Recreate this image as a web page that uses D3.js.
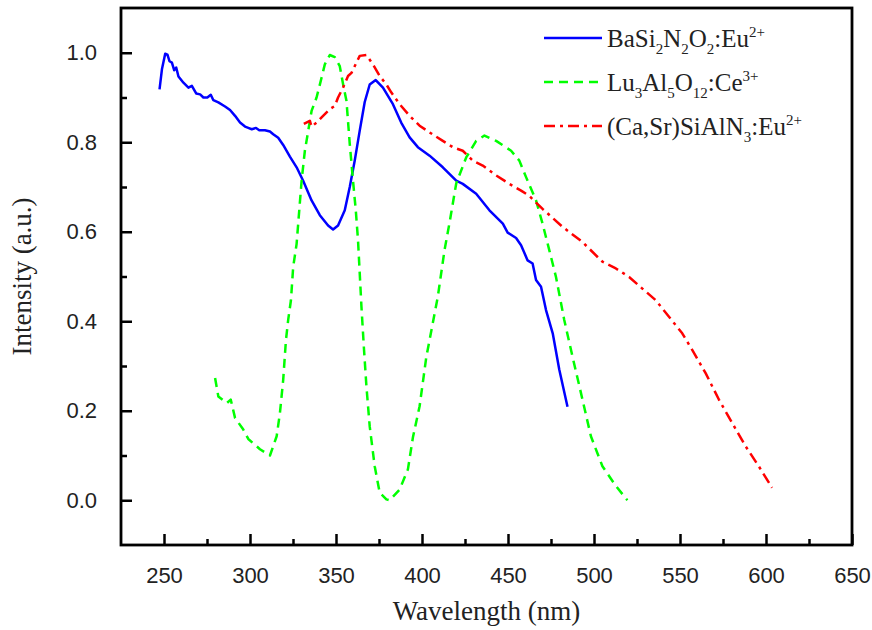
<!DOCTYPE html>
<html>
<head>
<meta charset="utf-8">
<script src="https://cdn.jsdelivr.net/npm/d3@7"></script>
<style>
  body { margin: 0; background: #fff; }
  svg { display: block; }
</style>
</head>
<body>
<div id="chart"></div>
<script>
// BaSi2N2O2:Eu2+ (solid blue)
var baWl = [247.4, 248.8, 250.7, 252.0, 253.2, 254.6, 255.9, 257.1, 258.4, 261.3, 264.2, 266.2, 268.7, 271.0, 272.9, 275.2, 277.2, 278.7, 281.6, 285.5, 288.4, 291.3, 294.2, 297.1, 299.0, 301.0, 303.5, 305.4, 308.7, 311.6, 313.5, 316.4, 319.3, 323.2, 327.1, 330.9, 335.8, 340.6, 345.4, 348.3, 351.2, 355.1, 358.0, 360.9, 363.8, 366.7, 369.6, 373.1, 377.3, 383.1, 387.9, 392.8, 397.6, 404.4, 412.1, 419.9, 423.7, 431.5, 439.2, 447.0, 449.8, 454.7, 457.6, 461.4, 464.3, 466.3, 469.2, 472.1, 476.0, 479.8, 484.6];
var baInt = [0.918, 0.963, 0.998, 0.996, 0.981, 0.978, 0.961, 0.967, 0.947, 0.933, 0.922, 0.926, 0.909, 0.907, 0.900, 0.900, 0.906, 0.894, 0.889, 0.880, 0.872, 0.859, 0.844, 0.835, 0.832, 0.829, 0.832, 0.827, 0.827, 0.824, 0.818, 0.810, 0.794, 0.768, 0.744, 0.714, 0.670, 0.637, 0.614, 0.605, 0.614, 0.648, 0.700, 0.759, 0.826, 0.890, 0.929, 0.939, 0.922, 0.885, 0.844, 0.811, 0.789, 0.770, 0.744, 0.714, 0.707, 0.685, 0.648, 0.618, 0.598, 0.586, 0.570, 0.536, 0.529, 0.492, 0.477, 0.425, 0.373, 0.292, 0.209];

// Lu3Al5O12:Ce3+ (dashed green)
var luWl = [279.7, 281.6, 286.5, 288.8, 291.3, 296.1, 299.0, 305.8, 311.6, 315.5, 317.4, 319.3, 320.9, 322.2, 323.8, 325.1, 327.1, 330.0, 331.9, 335.8, 338.7, 341.6, 343.5, 346.4, 349.3, 352.2, 354.1, 356.1, 358.0, 359.9, 361.5, 362.8, 363.8, 364.8, 366.3, 367.7, 369.6, 372.5, 375.4, 379.3, 381.2, 387.0, 391.8, 394.7, 398.6, 402.5, 409.2, 413.1, 416.0, 419.9, 425.7, 431.5, 436.3, 443.1, 451.8, 456.6, 460.5, 466.3, 470.1, 474.0, 477.9, 482.7, 487.5, 492.4, 498.2, 504.9, 512.7, 519.4];
var luInt = [0.273, 0.232, 0.217, 0.225, 0.184, 0.158, 0.137, 0.114, 0.100, 0.143, 0.195, 0.269, 0.358, 0.403, 0.447, 0.521, 0.573, 0.714, 0.781, 0.870, 0.900, 0.944, 0.974, 0.995, 0.990, 0.970, 0.930, 0.892, 0.796, 0.714, 0.648, 0.581, 0.507, 0.432, 0.336, 0.254, 0.165, 0.076, 0.017, 0.002, 0.000, 0.024, 0.069, 0.140, 0.210, 0.320, 0.455, 0.559, 0.620, 0.708, 0.766, 0.803, 0.815, 0.803, 0.781, 0.759, 0.722, 0.670, 0.618, 0.559, 0.499, 0.403, 0.321, 0.240, 0.143, 0.076, 0.032, 0.000];

// (Ca,Sr)SiAlN3:Eu2+ (dash-dot red)
var caWl = [331.3, 334.8, 335.8, 338.7, 342.5, 346.4, 349.3, 351.2, 354.1, 357.0, 359.0, 363.8, 367.7, 371.5, 375.4, 379.3, 382.2, 387.0, 392.8, 398.6, 404.4, 412.1, 417.9, 423.7, 429.5, 435.3, 443.1, 450.8, 457.6, 462.4, 470.1, 481.7, 493.3, 504.9, 512.7, 520.4, 528.1, 535.9, 543.6, 551.3, 557.1, 564.9, 572.6, 580.3, 588.1, 595.8, 603.5];
var caInt = [0.841, 0.848, 0.835, 0.844, 0.859, 0.874, 0.881, 0.900, 0.922, 0.948, 0.955, 0.993, 0.995, 0.974, 0.948, 0.929, 0.911, 0.885, 0.859, 0.837, 0.822, 0.803, 0.789, 0.781, 0.759, 0.748, 0.726, 0.707, 0.692, 0.680, 0.651, 0.611, 0.577, 0.533, 0.518, 0.499, 0.473, 0.447, 0.410, 0.373, 0.336, 0.284, 0.225, 0.173, 0.121, 0.076, 0.028];

var xTicks = [250, 300, 350, 400, 450, 500, 550, 600, 650];
var xMinor = [275, 325, 375, 425, 475, 525, 575, 625];
var yTicks = [0.0, 0.2, 0.4, 0.6, 0.8, 1.0];
var yMinor = [0.1, 0.3, 0.5, 0.7, 0.9];

var legendNames = [
    [["BaSi", ""], ["2", "sub"], ["N", ""], ["2", "sub"], ["O", ""], ["2", "sub"], [":Eu", ""], ["2+", "sup"]],
    [["Lu", ""], ["3", "sub"], ["Al", ""], ["5", "sub"], ["O", ""], ["12", "sub"], [":Ce", ""], ["3+", "sup"]],
    [["(Ca,Sr)SiAlN", ""], ["3", "sub"], [":Eu", ""], ["2+", "sup"]]
];

var W = 872, H = 630;
var margin = { top: 8, right: 20, bottom: 85, left: 121 };
var width = W - margin.left - margin.right,
    height = H - margin.top - margin.bottom;

var svg = d3.select("#chart").append("svg")
    .attr("width", W)
    .attr("height", H);

var g = svg.append("g")
    .attr("transform", "translate(" + margin.left + "," + margin.top + ")");

var x = d3.scaleLinear().domain([225, 650]).range([0, width]);
var y = d3.scaleLinear().domain([-0.1, 1.1]).range([height, 0]);

var series = [
    { wl: baWl, val: baInt, color: "#0000ff", dash: null },
    { wl: luWl, val: luInt, color: "#00ff00", dash: "9,6" },
    { wl: caWl, val: caInt, color: "#ff0000", dash: "11,5,3,5" }
];

var line = d3.line()
    .x(d => x(d[0]))
    .y(d => y(d[1]));

series.forEach(function (s) {
    g.append("path")
        .datum(d3.zip(s.wl, s.val))
        .attr("fill", "none")
        .attr("stroke", s.color)
        .attr("stroke-width", 2.5)
        .attr("stroke-dasharray", s.dash)
        .attr("stroke-linejoin", "round")
        .attr("d", line);
});

// axes, ticks pointing inward
var xAxis = g.append("g")
    .attr("transform", "translate(0," + height + ")")
    .call(d3.axisBottom(x).tickValues(xTicks).tickSize(-11).tickPadding(22).tickFormat(d3.format("d")));
g.append("g")
    .attr("transform", "translate(0," + height + ")")
    .call(d3.axisBottom(x).tickValues(xMinor).tickSize(-6).tickFormat(""));

var yAxis = g.append("g")
    .call(d3.axisLeft(y).tickValues(yTicks).tickSize(-11).tickPadding(24).tickFormat(d3.format(".1f")));
g.append("g")
    .call(d3.axisLeft(y).tickValues(yMinor).tickSize(-6).tickFormat(""));

g.selectAll(".domain").remove();
g.selectAll(".tick line").attr("stroke", "#000").attr("stroke-width", 2.5);
g.selectAll(".tick text")
    .attr("fill", "#222")
    .style("font-family", "Liberation Sans, Arial, sans-serif")
    .style("font-size", "22px");

// frame
g.append("rect")
    .attr("width", width)
    .attr("height", height)
    .attr("fill", "none")
    .attr("stroke", "#000")
    .attr("stroke-width", 2.8);

// axis titles
svg.append("text")
    .attr("x", margin.left + width / 2)
    .attr("y", 620)
    .attr("text-anchor", "middle")
    .style("font-family", "Liberation Serif, Times New Roman, serif")
    .style("font-size", "27px")
    .attr("fill", "#222")
    .text("Wavelength (nm)");

svg.append("text")
    .attr("transform", "translate(31," + (margin.top + height / 2) + ") rotate(-90)")
    .attr("text-anchor", "middle")
    .style("font-family", "Liberation Serif, Times New Roman, serif")
    .style("font-size", "27px")
    .attr("fill", "#222")
    .text("Intensity (a.u.)");

// legend
var legY = [38, 82, 126];
series.forEach(function (s, i) {
    svg.append("line")
        .attr("x1", 544).attr("x2", 602)
        .attr("y1", legY[i]).attr("y2", legY[i])
        .attr("stroke", s.color)
        .attr("stroke-width", 2.5)
        .attr("stroke-dasharray", s.dash);

    var t = svg.append("text")
        .attr("x", 607)
        .attr("y", legY[i] + 8.5)
        .style("font-family", "Liberation Serif, Times New Roman, serif")
        .style("font-size", "25px")
        .attr("fill", "#222");

    var shift = 0;
    legendNames[i].forEach(function (p) {
        var target = p[1] === "sub" ? 7 : p[1] === "sup" ? -10 : 0;
        var ts = t.append("tspan")
            .attr("dy", target - shift)
            .text(p[0]);
        if (p[1]) ts.style("font-size", "15px");
        shift = target;
    });
});
</script>
</body>
</html>
